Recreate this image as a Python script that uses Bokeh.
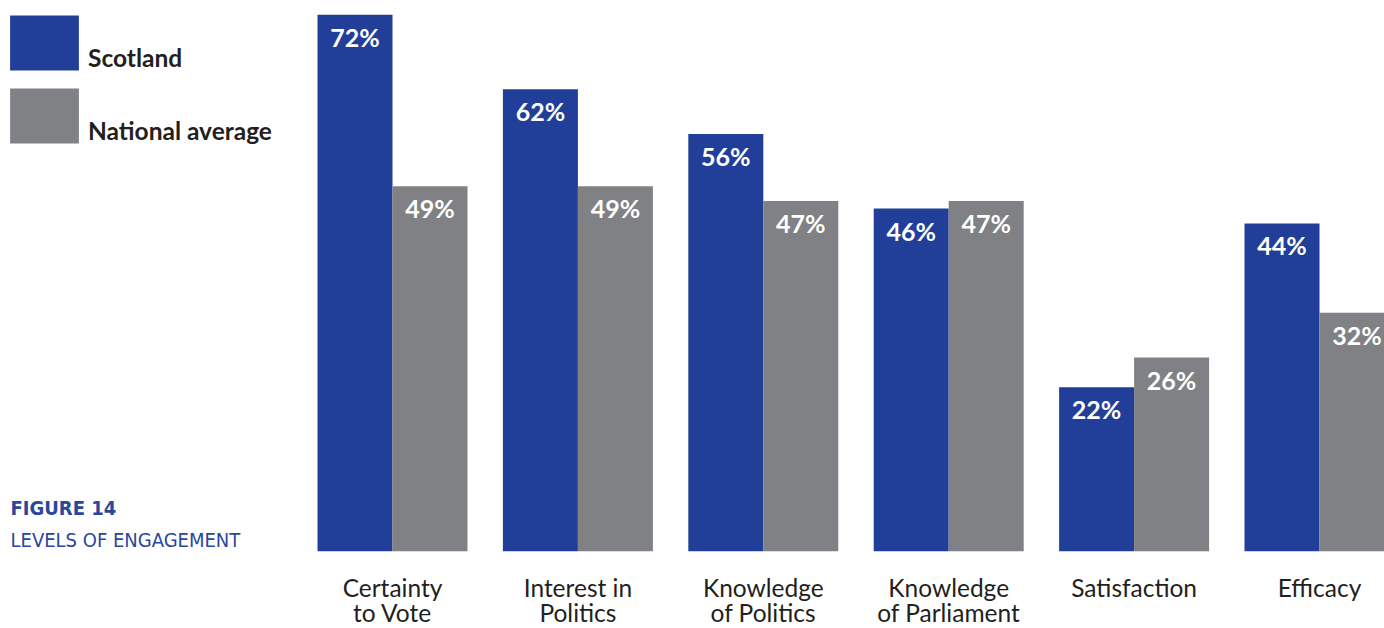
from bokeh.plotting import figure
from bokeh.models import ColumnDataSource, Legend, LegendItem, Label, Range1d
from bokeh.core.properties import value
from bokeh.embed import file_html
from bokeh.resources import INLINE

categories = ["Certainty\nto Vote", "Interest in\nPolitics", "Knowledge\nof Politics",
              "Knowledge\nof Parliament", "Satisfaction", "Efficacy"]
scotland = [72, 62, 56, 46, 22, 44]
national = [49, 49, 47, 47, 26, 32]
series_names = ["Scotland", "National average"]

BLUE = "#213f98"
GREY = "#808184"
TEXT = "#231f20"
TITLE_BLUE = "#2a479c"

W, H = 1384, 628
GROUP_PX = 185.4
BAR_PX = 75
PX_PER_PCT = 7.45
BASE_Y = 550.7      # canvas y of zero line
X0_PX = 392.0       # canvas x of first group centre

x_start = -X0_PX / GROUP_PX
x_end = x_start + W / GROUP_PX
y_end = BASE_Y / PX_PER_PCT
y_start = -(H - BASE_Y) / PX_PER_PCT
bw = BAR_PX / GROUP_PX

idx = list(range(len(categories)))
src = ColumnDataSource(dict(
    xs=[i - bw / 2 for i in idx],
    xn=[i + bw / 2 for i in idx],
    scot=scotland,
    nat=national,
    scot_lbl=[f"{v}%" for v in scotland],
    nat_lbl=[f"{v}%" for v in national],
    line1=[c.split("\n")[0] for c in categories],
    line2=[c.split("\n")[1] if "\n" in c else "" for c in categories],
    xc=idx,
    zero=[0] * len(idx),
))

p = figure(width=W, height=H, output_backend="svg", toolbar_location=None,
           x_range=Range1d(x_start, x_end), y_range=Range1d(y_start, y_end),
           min_border=0, x_axis_location=None, y_axis_location=None)
p.outline_line_color = None
p.xgrid.visible = False
p.ygrid.visible = False
p.background_fill_color = "white"
p.border_fill_color = "white"

r1 = p.vbar(x="xs", top="scot", bottom=0, width=bw, source=src, color=BLUE, line_color=None)
r2 = p.vbar(x="xn", top="nat", bottom=0, width=bw, source=src, color=GREY, line_color=None)

LF = value("Lato")
p.text(x="xs", y="scot", text="scot_lbl", source=src, text_font=LF, text_font_style="bold",
       text_font_size="25px", text_color="white", text_align="center",
       text_baseline="alphabetic", y_offset=22)
p.text(x="xn", y="nat", text="nat_lbl", source=src, text_font=LF, text_font_style="bold",
       text_font_size="25px", text_color="white", text_align="center",
       text_baseline="alphabetic", y_offset=22)

p.text(x="xc", y="zero", text="line1", source=src, text_font=LF,
       text_font_size="24.5px", text_color=TEXT, text_align="center",
       text_baseline="alphabetic", y_offset=36)
p.text(x="xc", y="zero", text="line2", source=src, text_font=LF,
       text_font_size="24.5px", text_color=TEXT, text_align="center",
       text_baseline="alphabetic", y_offset=61)

# area-glyph legend swatches are drawn at 80% of the glyph box
GW, GH = 86, 69
SP = 4
legend = Legend(items=[LegendItem(label="\n" + series_names[0], renderers=[r1]),
                       LegendItem(label="\n" + series_names[1], renderers=[r2])],
                location=(1, H - 8 - (GH * 2 + SP)), orientation="vertical",
                glyph_width=GW, glyph_height=GH, spacing=SP, padding=0, margin=0,
                label_standoff=1, label_text_font="Lato", label_text_font_style="bold",
                label_text_font_size="24.5px", label_text_color=TEXT,
                label_text_line_height=0.55, label_height=GH,
                border_line_color=None, background_fill_alpha=0)
p.add_layout(legend, "center")

cond = "DejaVu Sans Condensed"
p.add_layout(Label(x=10, y=H - 507, x_units="screen", y_units="screen", text="FIGURE 14",
                   text_font=cond, text_font_style="bold", text_font_size="20px",
                   text_color=TITLE_BLUE, text_baseline="alphabetic"))
p.add_layout(Label(x=10, y=H - 539, x_units="screen", y_units="screen", text="LEVELS OF ENGAGEMENT",
                   text_font=cond, text_font_size="20px",
                   text_color=TITLE_BLUE, text_baseline="alphabetic"))

open("out.html", "w").write(file_html(p, INLINE))
